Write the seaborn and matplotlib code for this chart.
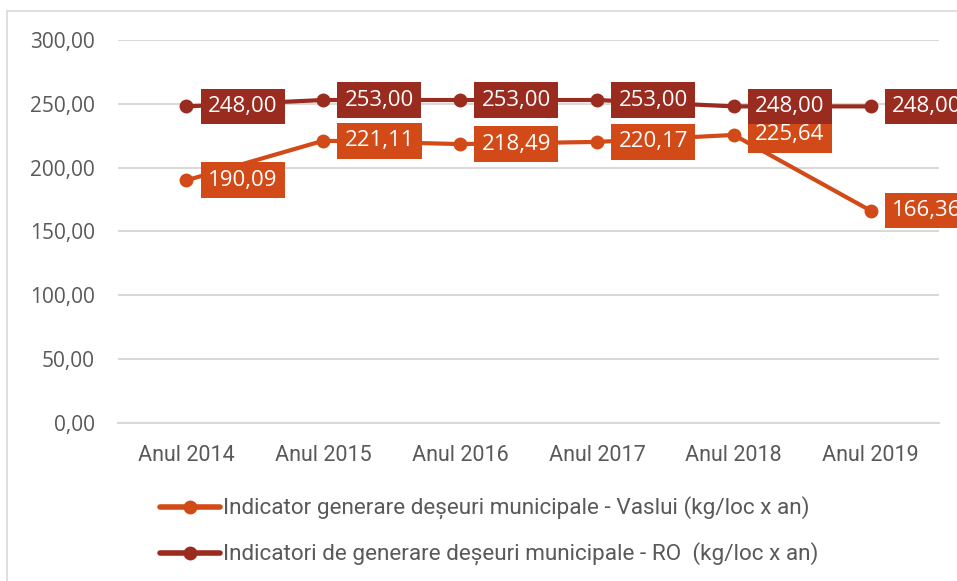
import matplotlib
matplotlib.use("Agg")
import matplotlib.pyplot as plt
import seaborn as sns
import pandas as pd
from matplotlib.lines import Line2D

# Data
years = ["Anul 2014", "Anul 2015", "Anul 2016", "Anul 2017", "Anul 2018", "Anul 2019"]
vaslui = [190.09, 221.11, 218.49, 220.17, 225.64, 166.36]
romania = [248.00, 253.00, 253.00, 253.00, 248.00, 248.00]
label_vaslui = "Indicator generare deșeuri municipale - Vaslui (kg/loc x an)"
label_ro = "Indicatori de generare deșeuri municipale - RO  (kg/loc x an)"
y_ticks = [0, 50, 100, 150, 200, 250, 300]

orange = "#D24A17"
darkred = "#9A2B1F"
gray = "#595959"

sns.set_style("white")
plt.rcParams["font.family"] = ["Open Sans", "DejaVu Sans"]

fig = plt.figure(figsize=(9.57, 5.81), dpi=100)
ax = fig.add_axes([118 / 957, 158 / 581, 821 / 957, 383 / 581])

df = pd.DataFrame({"pos": range(len(years)), "year": years,
                   "vaslui": vaslui, "ro": romania})

sns.lineplot(data=df, x="pos", y="vaslui", ax=ax, color=orange, linewidth=3,
             marker="o", markersize=10, markeredgewidth=0, zorder=3)
sns.lineplot(data=df, x="pos", y="ro", ax=ax, color=darkred, linewidth=3,
             marker="o", markersize=10, markeredgewidth=0, zorder=3)

# data labels (the last ones run past the right edge, as in the original)
for series, col, z in [(vaslui, orange, 4), (romania, darkred, 5)]:
    for i, v in enumerate(series):
        ax.annotate(f"{v:.2f}".replace(".", ","), (i, v), xytext=(15.5, 0),
                    textcoords="offset points", ha="left", va="center",
                    fontsize=16, color="white", zorder=z,
                    annotation_clip=False,
                    bbox=dict(boxstyle="square,pad=0.33", fc=col, ec="none"))

ax.set_xlim(-0.5, len(years) - 0.5)
ax.set_ylim(0, 300)
ax.set_yticks(y_ticks)
ax.set_yticklabels([f"{t:.2f}".replace(".", ",") for t in y_ticks],
                   fontsize=15, color=gray)
ax.set_xticks(range(len(years)))
ax.set_xticklabels(years, fontsize=15.5, color=gray,
                   family=["Roboto", "DejaVu Sans"])
ax.tick_params(axis="y", length=0, pad=16.5)
ax.tick_params(axis="x", length=0, pad=16)
ax.set_xlabel("")
ax.set_ylabel("")
ax.grid(axis="y", color="#D9D9D9", linewidth=1.5)
ax.set_axisbelow(True)
for s in ["top", "right", "left"]:
    ax.spines[s].set_visible(False)
ax.spines["bottom"].set_color("#D9D9D9")
ax.spines["bottom"].set_linewidth(1.5)

# legend
handles = [
    Line2D([], [], color=orange, linewidth=4, marker="o", markersize=10, markeredgewidth=0),
    Line2D([], [], color=darkred, linewidth=4, marker="o", markersize=10, markeredgewidth=0),
]
leg = fig.legend(handles, [label_vaslui, label_ro], loc="upper left",
                 bbox_to_anchor=(160 / 957, 1 - 497 / 581), frameon=False,
                 borderpad=0, borderaxespad=0,
                 handlelength=2.65, handletextpad=0.15, labelspacing=1.0,
                 prop={"family": ["Roboto", "DejaVu Sans"], "size": 16.2})
for t in leg.get_texts():
    t.set_color(gray)

# outer chart border (left and top visible)
fig.add_artist(Line2D([7 / 957, 7 / 957], [0, 1 - 11 / 581], color="#D9D9D9",
                      linewidth=1.2, transform=fig.transFigure))
fig.add_artist(Line2D([7 / 957, 1], [1 - 11 / 581, 1 - 11 / 581], color="#D9D9D9",
                      linewidth=1.2, transform=fig.transFigure))

fig.savefig("out.png", dpi=100)
